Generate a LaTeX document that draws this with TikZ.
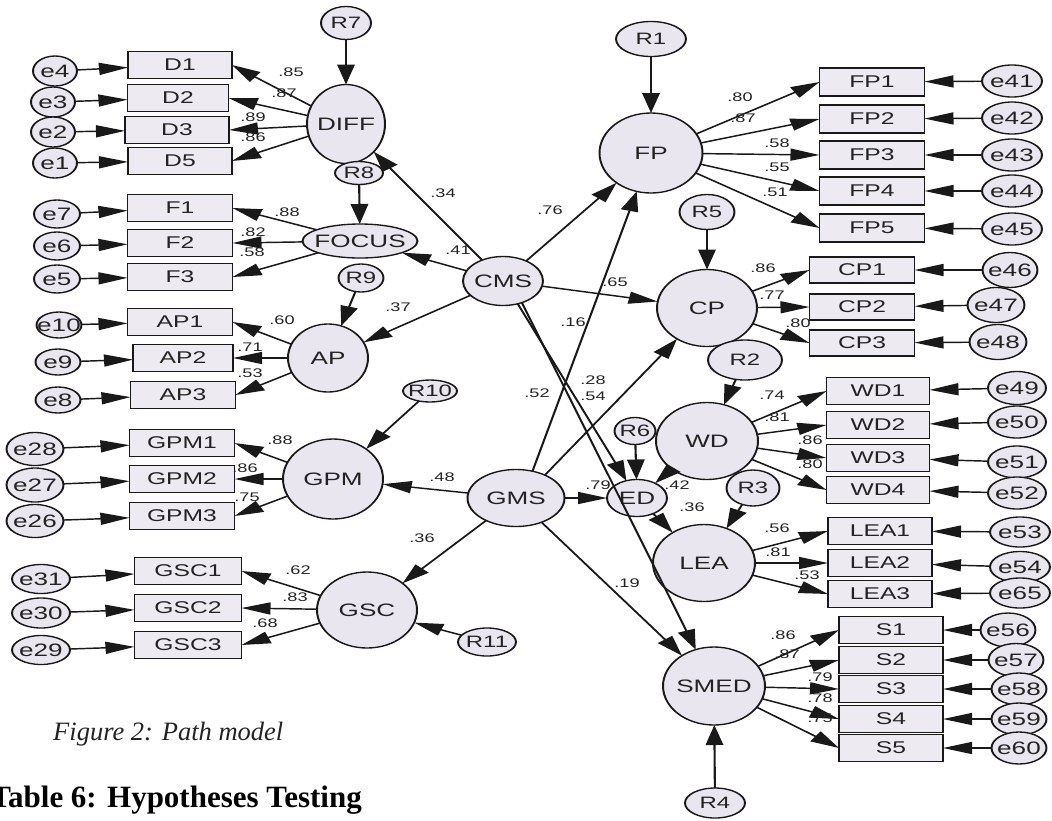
\documentclass[tikz,border=0pt]{standalone}
\usepackage{fontspec}
\setmainfont{Liberation Sans}
\newfontfamily\capfont{Liberation Serif}
\usetikzlibrary{arrows.meta,shapes.geometric}
\definecolor{latfill}{RGB}{234,230,239}
\definecolor{boxfill}{RGB}{237,235,241}
\definecolor{ink}{RGB}{25,25,25}
\definecolor{txt}{RGB}{35,35,35}
\tikzset{
  sz/.style 2 args={minimum width={#1pt/1.45}, minimum height={#2pt}},
  bw/.style={minimum width={#1pt/1.45}},
  lat/.style={ellipse, draw=ink, line width=1.35pt, fill=latfill, inner sep=0pt, outer sep=0pt},
  ltx/.style={font=\fontsize{18}{18}\selectfont, text=txt, inner sep=0pt},
  rtx/.style={font=\fontsize{16.5}{16}\selectfont, text=txt, inner sep=0pt},
  etx/.style={font=\fontsize{18}{18}\selectfont, text=txt, inner sep=0pt},
  ind/.style={rectangle, draw=ink, line width=1.35pt, fill=boxfill, inner sep=0pt, outer sep=0pt, minimum height=27pt, font=\fontsize{17}{17}\selectfont, text=txt},
  coef/.style={font=\fontsize{12.5}{12}\selectfont, text=txt, inner sep=0pt},
  arr/.style={draw=ink, line width=1.45pt, -{Triangle[length=20pt,width=12pt]}},
}
\begin{document}
\begin{tikzpicture}[x=1pt,y=-1pt]
\useasboundingbox (0,0) rectangle (1052,820);
\begin{scope}[x=0.689655pt, transform canvas={xscale=1.45}]
% ---------- latent variables ----------
\node[lat, sz={78}{79}, label={[ltx]center:DIFF}] (DIFF) at (346,124) {};
\node[lat, sz={115}{34}, label={[ltx]center:FOCUS}] (FOCUS) at (360,241) {};
\node[lat, sz={80}{68}, label={[ltx]center:AP}] (AP) at (328,358) {};
\node[lat, sz={100}{80}, label={[ltx]center:GPM}] (GPM) at (333,479) {};
\node[lat, sz={100}{76}, label={[ltx]center:GSC}] (GSC) at (367,610) {};
\node[lat, sz={80}{49}, label={[ltx]center:CMS}] (CMS) at (503,281) {};
\node[lat, sz={97}{57}, label={[ltx]center:GMS}] (GMS) at (516,498) {};
\node[lat, sz={103}{80}, label={[ltx]center:FP}] (FP) at (651,153) {};
\node[lat, sz={100}{77}, label={[ltx]center:CP}] (CP) at (707,308) {};
\node[lat, sz={102}{77}, label={[ltx]center:WD}] (WD) at (707,441) {};
\node[lat, sz={60}{37}, label={[ltx]center:ED}] (ED) at (637,498) {};
\node[lat, sz={102}{77}, label={[ltx]center:LEA}] (LEA) at (704,563) {};
\node[lat, sz={102}{78}, label={[ltx]center:SMED}] (SMED) at (714,686) {};
% ---------- residuals ----------
\node[lat, sz={50}{33}, label={[rtx]center:R7}] (R7) at (346,23) {};
\node[lat, sz={48}{23}, label={[rtx]center:R8}] (R8) at (359,173) {};
\node[lat, sz={45}{28}, label={[rtx]center:R9}] (R9) at (361,278) {};
\node[lat, sz={54}{22}, label={[rtx]center:R10}] (R10) at (430,391) {};
\node[lat, sz={58}{28}, label={[rtx]center:R11}] (R11) at (487,642) {};
\node[lat, sz={70}{35}, label={[rtx]center:R1}] (R1) at (651,39) {};
\node[lat, sz={55}{35}, label={[rtx]center:R5}] (R5) at (707,212) {};
\node[lat, sz={74}{40}, label={[rtx]center:R2}] (R2) at (745,360) {};
\node[lat, sz={41}{27}, label={[rtx]center:R6}] (R6) at (635,431) {};
\node[lat, sz={53}{36}, label={[rtx]center:R3}] (R3) at (753,488) {};
\node[lat, sz={60}{30}, label={[rtx]center:R4}] (R4) at (715,803) {};
% ---------- left error terms ----------
\node[lat, sz={44}{30}, label={[etx]center:e4}] (e4) at (55,71) {};
\node[lat, sz={44}{30}, label={[etx]center:e3}] (e3) at (53,102) {};
\node[lat, sz={44}{30}, label={[etx]center:e2}] (e2) at (53,132) {};
\node[lat, sz={44}{30}, label={[etx]center:e1}] (e1) at (55,163) {};
\node[lat, sz={46}{28}, label={[etx]center:e7}] (e7) at (57,214) {};
\node[lat, sz={46}{28}, label={[etx]center:e6}] (e6) at (57,246) {};
\node[lat, sz={46}{28}, label={[etx]center:e5}] (e5) at (57,279) {};
\node[lat, sz={45}{26}, label={[etx]center:e10}] (e10) at (59,325) {};
\node[lat, sz={45}{26}, label={[etx]center:e9}] (e9) at (58,362) {};
\node[lat, sz={45}{26}, label={[etx]center:e8}] (e8) at (58,400) {};
\node[lat, sz={57}{33}, label={[etx]center:e28}] (e28) at (35,449) {};
\node[lat, sz={57}{34}, label={[etx]center:e27}] (e27) at (35,485) {};
\node[lat, sz={57}{33}, label={[etx]center:e26}] (e26) at (35,521) {};
\node[lat, sz={58}{29}, label={[etx]center:e31}] (e31) at (41,579) {};
\node[lat, sz={58}{30}, label={[etx]center:e30}] (e30) at (41,613) {};
\node[lat, sz={58}{29}, label={[etx]center:e29}] (e29) at (41,650) {};
% ---------- right error terms ----------
\node[lat, sz={60}{32}, label={[etx]center:e41}] (e41) at (1012,81) {};
\node[lat, sz={60}{32}, label={[etx]center:e42}] (e42) at (1012,118) {};
\node[lat, sz={60}{32}, label={[etx]center:e43}] (e43) at (1012,155) {};
\node[lat, sz={60}{32}, label={[etx]center:e44}] (e44) at (1012,191) {};
\node[lat, sz={60}{32}, label={[etx]center:e45}] (e45) at (1012,229) {};
\node[lat, sz={55}{35}, label={[etx]center:e46}] (e46) at (1010,270) {};
\node[lat, sz={57}{35}, label={[etx]center:e47}] (e47) at (996,305) {};
\node[lat, sz={57}{35}, label={[etx]center:e48}] (e48) at (998,342) {};
\node[lat, sz={58}{33}, label={[etx]center:e49}] (e49) at (1017,388) {};
\node[lat, sz={58}{32}, label={[etx]center:e50}] (e50) at (1017,422) {};
\node[lat, sz={58}{32}, label={[etx]center:e51}] (e51) at (1017,462) {};
\node[lat, sz={58}{32}, label={[etx]center:e52}] (e52) at (1017,493) {};
\node[lat, sz={60}{30}, label={[etx]center:e53}] (e53) at (1020,532) {};
\node[lat, sz={60}{31}, label={[etx]center:e54}] (e54) at (1020,567) {};
\node[lat, sz={60}{30}, label={[etx]center:e65}] (e65) at (1020,593) {};
\node[lat, sz={55}{34}, label={[etx]center:e56}] (e56) at (1008,630) {};
\node[lat, sz={55}{33}, label={[etx]center:e57}] (e57) at (1016,660) {};
\node[lat, sz={55}{32}, label={[etx]center:e58}] (e58) at (1019,689) {};
\node[lat, sz={55}{32}, label={[etx]center:e59}] (e59) at (1019,719) {};
\node[lat, sz={55}{32}, label={[etx]center:e60}] (e60) at (1019,748) {};
% ---------- indicators left ----------
\node[ind, bw=104] (D1) at (180,65) {D1};
\node[ind, bw=101] (D2) at (178,98) {D2};
\node[ind, bw=104] (D3) at (177,130) {D3};
\node[ind, bw=104] (D5) at (180,161) {D5};
\node[ind, bw=105] (F1) at (180,208) {F1};
\node[ind, bw=105] (F2) at (180,243) {F2};
\node[ind, bw=105] (F3) at (180,277) {F3};
\node[ind, bw=105] (AP1) at (180,322) {AP1};
\node[ind, bw=100] (AP2) at (183,358) {AP2};
\node[ind, bw=105] (AP3) at (183,395) {AP3};
\node[ind, bw=105] (GPM1) at (182,443) {GPM1};
\node[ind, bw=105] (GPM2) at (182,479) {GPM2};
\node[ind, bw=105] (GPM3) at (182,516) {GPM3};
\node[ind, bw=107] (GSC1) at (188,571) {GSC1};
\node[ind, bw=107] (GSC2) at (188,608) {GSC2};
\node[ind, bw=107] (GSC3) at (188,645) {GSC3};
% ---------- indicators right ----------
\node[ind, bw=105, minimum height=28pt] (FP1) at (872,82) {FP1};
\node[ind, bw=105, minimum height=28pt] (FP2) at (872,119) {FP2};
\node[ind, bw=105, minimum height=28pt] (FP3) at (872,155) {FP3};
\node[ind, bw=105, minimum height=28pt] (FP4) at (872,191) {FP4};
\node[ind, bw=105, minimum height=28pt] (FP5) at (872,228) {FP5};
\node[ind, bw=105, minimum height=26pt] (CP1) at (862,270) {CP1};
\node[ind, bw=105, minimum height=26pt] (CP2) at (862,307) {CP2};
\node[ind, bw=105, minimum height=26pt] (CP3) at (862,343) {CP3};
\node[ind, bw=103] (WD1) at (878,391) {WD1};
\node[ind, bw=103] (WD2) at (878,425) {WD2};
\node[ind, bw=103] (WD3) at (878,458) {WD3};
\node[ind, bw=103] (WD4) at (878,490) {WD4};
\node[ind, bw=104] (LEA1) at (880,531) {LEA1};
\node[ind, bw=104] (LEA2) at (880,563) {LEA2};
\node[ind, bw=104] (LEA3) at (880,594) {LEA3};
\node[ind, bw=104] (S1) at (891,630) {S1};
\node[ind, bw=104] (S2) at (891,660) {S2};
\node[ind, bw=104] (S3) at (891,689) {S3};
\node[ind, bw=104] (S4) at (891,719) {S4};
\node[ind, bw=104] (S5) at (891,748) {S5};
% ---------- measurement arrows left ----------
\foreach \e/\b in {e4/D1,e3/D2,e2/D3,e1/D5,e7/F1,e6/F2,e5/F3,e10/AP1,e9/AP2,e8/AP3,e28/GPM1,e27/GPM2,e26/GPM3,e31/GSC1,e30/GSC2,e29/GSC3}
  \draw[arr] (\e) -- (\b);
\foreach \l/\b in {DIFF/D1,DIFF/D2,DIFF/D3,DIFF/D5,FOCUS/F1,FOCUS/F2,FOCUS/F3,AP/AP1,AP/AP2,AP/AP3,GPM/GPM1,GPM/GPM2,GPM/GPM3,GSC/GSC1,GSC/GSC2,GSC/GSC3}
  \draw[arr] (\l) -- (\b.east);
% ---------- measurement arrows right ----------
\foreach \e/\b in {e41/FP1,e42/FP2,e43/FP3,e44/FP4,e45/FP5,e46/CP1,e47/CP2,e48/CP3,e49/WD1,e50/WD2,e51/WD3,e52/WD4,e53/LEA1,e54/LEA2,e65/LEA3,e56/S1,e57/S2,e58/S3,e59/S4,e60/S5}
  \draw[arr] (\e) -- (\b);
\foreach \l/\b in {FP/FP1,FP/FP2,FP/FP3,FP/FP4,FP/FP5,CP/CP1,CP/CP2,CP/CP3,WD/WD1,WD/WD2,WD/WD3,WD/WD4,LEA/LEA1,LEA/LEA2,LEA/LEA3,SMED/S1,SMED/S2,SMED/S3,SMED/S4,SMED/S5}
  \draw[arr] (\l) -- (\b.west);
% ---------- residual arrows ----------
\foreach \r/\l in {R7/DIFF,R8/FOCUS,R9/AP,R10/GPM,R11/GSC,R1/FP,R5/CP,R2/WD,R6/ED,R3/LEA,R4/SMED}
  \draw[arr] (\r) -- (\l);
% ---------- structural paths ----------
\foreach \t in {DIFF,FOCUS,AP,FP,CP}
  \draw[arr] (CMS) -- (\t);
\draw[arr] (CMS.-66) -- (ED);
\draw[arr] (CMS.-59) -- (SMED);
\foreach \t in {GPM,GSC,ED,SMED}
  \draw[arr] (GMS) -- (\t);
\draw[arr] (GMS.67) -- (FP);
\draw[arr] (GMS.49) -- (CP);
\draw[arr] (WD) -- (ED);
\draw[arr] (ED) -- (LEA);
% ---------- coefficients ----------
\node[coef] (c1) at (291,72) {.85};
\node[coef] (c2) at (284,93) {.87};
\node[coef] (c3) at (253,117) {.89};
\node[coef] (c4) at (253,137) {.86};
\node[coef] (c5) at (443,193) {.34};
\node[coef] (c6) at (287,212) {.88};
\node[coef] (c7) at (253,232) {.82};
\node[coef] (c8) at (252,252) {.58};
\node[coef] (c9) at (458,250) {.41};
\node[coef] (c10) at (398,307) {.37};
\node[coef] (c11) at (282,320) {.60};
\node[coef] (c12) at (250,347) {.71};
\node[coef] (c13) at (250,373) {.53};
\node[coef] (c14) at (280,440) {.88};
\node[coef] (c15) at (245,468) {.86};
\node[coef] (c16) at (247,497) {.75};
\node[coef] (c17) at (442,477) {.48};
\node[coef] (c18) at (422,538) {.36};
\node[coef] (c19) at (298,570) {.62};
\node[coef] (c20) at (295,597) {.83};
\node[coef] (c21) at (265,623) {.68};
\node[coef] (c22) at (550,210) {.76};
\node[coef] (c23) at (615,282) {.65};
\node[coef] (c24) at (573,322) {.16};
\node[coef] (c25) at (593,380) {.28};
\node[coef] (c26) at (593,396) {.54};
\node[coef] (c27) at (537,393) {.52};
\node[coef] (c28) at (598,485) {.79};
\node[coef] (c29) at (677,485) {.42};
\node[coef] (c30) at (692,507) {.36};
\node[coef] (c31) at (627,583) {.19};
\node[coef] (c32) at (740,97) {.80};
\node[coef] (c33) at (743,118) {.87};
\node[coef] (c34) at (777,143) {.58};
\node[coef] (c35) at (777,167) {.55};
\node[coef] (c36) at (775,192) {.51};
\node[coef] (c37) at (763,268) {.86};
\node[coef] (c38) at (772,295) {.77};
\node[coef] (c39) at (798,323) {.80};
\node[coef] (c40) at (772,395) {.74};
\node[coef] (c41) at (777,417) {.81};
\node[coef] (c42) at (810,440) {.86};
\node[coef] (c43) at (810,464) {.80};
\node[coef] (c44) at (777,528) {.56};
\node[coef] (c45) at (778,552) {.81};
\node[coef] (c46) at (807,575) {.53};
\node[coef] (c47) at (783,635) {.86};
\node[coef] (c48) at (787,654) {.87};
\node[coef] (c49) at (820,677) {.79};
\node[coef] (c50) at (820,698) {.78};
\node[coef] (c51) at (820,718) {.75};
\end{scope}
% ---------- captions ----------
\node[anchor=base west, font=\capfont\itshape\fontsize{26.5}{28}\selectfont, text=txt, inner sep=0pt] (cap) at (53,740) {Figure 2: Path model};
\node[anchor=base east, font=\capfont\bfseries\fontsize{31}{33}\selectfont, text=black, inner sep=0pt] (tab) at (362,807) {Table 6: Hypotheses Testing};
\end{tikzpicture}
\end{document}
